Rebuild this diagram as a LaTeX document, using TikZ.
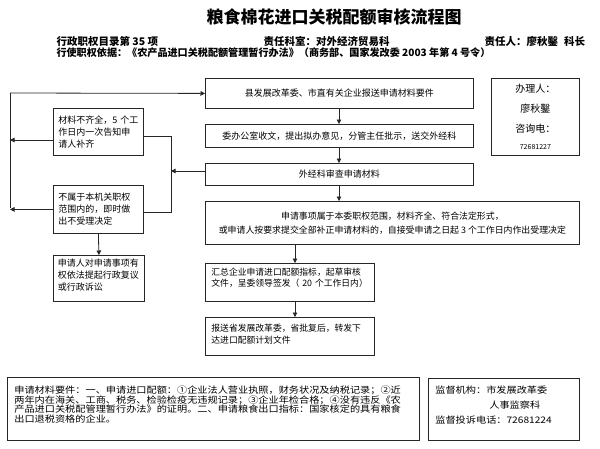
\documentclass[tikz,border=0pt]{standalone}
\usepackage{fontspec}
\setmainfont{Noto Sans CJK SC}
\newfontfamily\widecjk[FakeStretch=1.13]{Noto Sans CJK SC}
\usetikzlibrary{arrows.meta}
\begin{document}
\begin{tikzpicture}[x=1pt,y=-1pt,
  box/.style={draw=black!85, line width=0.8pt, inner sep=0pt, anchor=north west,
    font=\fontsize{9}{12}\selectfont},
  arr/.style={draw=black!85, line width=0.8pt, -{Triangle[length=4.5pt,width=4.5pt]}},
  ln/.style={draw=black!85, line width=0.8pt},
  head/.style={anchor=west, font=\bfseries\fontsize{10.5}{12}\selectfont}]
\useasboundingbox[fill=white] (0,0) rectangle (600,448);

% title and header
\node[anchor=west, font=\bfseries\fontsize{17}{19}\selectfont] (title) at (203,17) {粮食棉花进口关税配额审核流程图};
\node[head] (h1) at (53,41) {行政职权目录第 35 项};
\node[head] (h2) at (260,41) {责任科室：对外经济贸易科};
\node[head] (h3) at (481,41) {责任人：廖秋鑿\hspace{6pt}科长};
\node[head, font=\bfseries\fontsize{10.1}{12}\selectfont] (h4) at (53,53) {行使职权依据：《农产品进口关税配额管理暂行办法》（商务部、国家发改委 2003 年第 4 号令）};

% main column
\node[box, minimum width=268, minimum height=30] (A) at (205,78) {县发展改革委、市直有关企业报送申请材料要件};
\node[box, minimum width=268, minimum height=23] (B) at (205,124) {委办公室收文，提出拟办意见，分管主任批示，送交外经科};
\node[box, minimum width=268, minimum height=22] (C) at (205,163) {外经科审查申请材料};
\node[box, minimum width=374, minimum height=43, align=center, font=\fontsize{8.9}{14}\selectfont] (D) at (205,201)
  {申请事项属于本委职权范围，材料齐全、符合法定形式，\\或申请人按要求提交全部补正申请材料的，自接受申请之日起~3~个工作日内作出受理决定};
\node[box, minimum width=169, minimum height=38, text width=157, align=left, font=\fontsize{8.8}{11}\selectfont] (E) at (205,263)
  {汇总企业申请进口配额指标，起草审核\\文件，呈委领导签发（~20~个工作日内）\\\mbox{}};
\node[box, minimum width=169, minimum height=38, text width=157, align=left, font=\fontsize{8.8}{12}\selectfont] (F) at (205,317)
  {报送省发展改革委，省批复后，转发下\\达进口配额计划文件\\[-6pt]\mbox{}};

% left column
\node[box, minimum width=90, minimum height=47, text width=80, align=left] (L1) at (53,108)
  {材料不齐全，5~个工\\作日内一次告知申\\请人补齐};
\node[box, minimum width=90, minimum height=48, text width=80, align=left] (L2) at (53,185)
  {不属于本机关职权\\范围内的，即时做\\出不受理决定};
\node[box, minimum width=91, minimum height=46, text width=82, align=left] (L3) at (53,255)
  {申请人对申请事项有\\权依法提起行政复议\\或行政诉讼\\[-4pt]\mbox{}};

% contact box
\node[box, minimum width=88, minimum height=77, align=center, font=\fontsize{10}{20}\selectfont] (K) at (491,78)
  {办理人：\\廖秋鑿\\咨询电：\\[-3pt]{\fontsize{7}{8}\selectfont 72681227}};

% bottom boxes
\node[box, minimum width=412, minimum height=63, text width=398, align=left, font=\widecjk\fontsize{9}{9.7}\selectfont] (M) at (7,377)
  {申请材料要件：一、申请进口配额：①企业法人营业执照，财务状况及纳税记录；②近\\两年内在海关、工商、税务、检验检疫无违规记录；③企业年检合格；④没有违反《农\\产品进口关税配管理暂行办法》的证明。二、申请粮食出口指标：国家核定的具有粮食\\出口退税资格的企业。\\\mbox{}};
\node[box, minimum width=151, minimum height=62, text width=137, align=left, font=\widecjk\fontsize{9}{15}\selectfont] (S) at (428,378)
  {监督机构：市发展改革委\\\hspace*{54pt}人事监察科\\监督投诉电话：72681224\\[-6pt]\mbox{}};

% coordinates
\coordinate (LT) at (10,93);
\coordinate (LB) at (10,208);
\coordinate (X1) at (339,0);
\coordinate (X2) at (295,0);
\coordinate (R1) at (171,136);
\coordinate (R2) at (171,212);
\coordinate (L1a) at (53,140);
\coordinate (CL) at (205,171);

% connectors
\draw[ln] (LB) -- (LT);
\draw[arr] (LT) -- (A.west);
\draw[arr] (L1a) -- (L1a -| LT);
\draw[arr] (L2.west) -- (L2.west -| LB);
\draw[ln] (R1 -| L1.east) -- (R1) -- (R2) -- (R2 -| L2.east);
\draw[arr] (CL) -- (CL -| R1);
\draw[arr] (L2.south) -- (L3.north);
\draw[arr] (A.south -| X1) -- (B.north -| X1);
\draw[arr] (B.south -| X1) -- (C.north -| X1);
\draw[arr] (C.south -| X1) -- (D.north -| X1);
\draw[arr] (D.south -| X2) -- (E.north -| X2);
\draw[arr] (E.south -| X2) -- (F.north -| X2);
\end{tikzpicture}
\end{document}
